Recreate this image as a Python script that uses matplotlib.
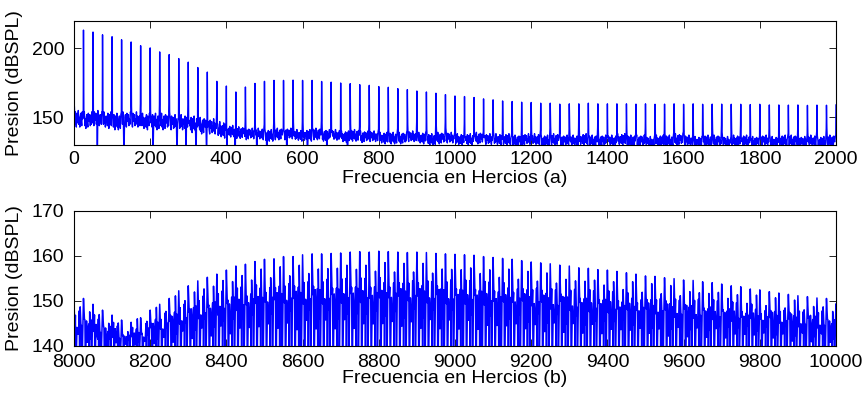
import numpy as np
import matplotlib.pyplot as plt

plt.rcParams['font.family'] = ['Liberation Sans', 'DejaVu Sans']

# Step 1: values
f0 = 25  # spacing of the harmonics (Hz)

# (a) peak height of each harmonic, 25 .. 2000 Hz
peaks_a = [213.2, 211.8, 209.8, 208.4, 206.2, 204.6, 201.9, 200.3, 197.4, 195.5,
           192.6, 190.0, 186.1, 182.8, 176.1, 172.7, 168.4, 172.0, 174.6, 176.1,
           176.8, 176.8, 177.0, 176.8, 176.8, 176.0, 175.5, 174.9, 174.4, 173.7,
           173.2, 172.3, 171.8, 170.8, 170.1, 169.1, 168.4, 167.5, 166.5, 165.5,
           165.1, 164.4, 163.4, 162.7, 161.9, 161.5, 161.0, 160.8, 160.3, 160.3,
           159.6, 159.8, 159.8, 160.3, 159.8, 159.8, 159.8, 159.8, 159.6, 159.8,
           159.5, 159.6, 159.8, 159.5, 159.8, 159.5, 159.6, 159.6, 159.5, 159.5,
           159.3, 159.5, 159.0, 159.0, 158.9, 159.0, 158.7, 158.9, 158.8, 159.0]

# (a) noise floor level in the gap before each harmonic
floor_a = [149, 148, 149, 148, 147, 148, 148, 147, 147, 147, 146, 146, 145, 144,
           143, 141, 140, 139,
           138, 138, 137, 138, 138, 137, 137, 138, 137, 137, 136, 137, 136, 136,
           135, 135, 135, 136, 135, 134, 135, 135, 134, 134, 135, 134,
           134, 134, 133, 134, 134, 133, 134, 133, 133, 134, 133, 133,
           133, 134, 133, 133, 132, 133, 133, 134, 133, 132, 133, 133,
           132, 133, 133, 132, 133, 132, 133, 133, 132, 133, 132, 133]

# (a) places where the floor drops out of the axes
dips_a = [61, 131, 207, 270, 294, 320, 348, 401, 422, 479, 506, 558, 612, 664, 717]

# (b) peak height of each harmonic, 8000 .. 10000 Hz
peaks_b = [149.8, 150.5, 149.2, 147.9, 146.8, 145.7, 145.2, 146.2, 147.9, 149.2,
           150.5, 152.2, 153.3, 154.4, 155.2, 155.9, 156.8, 157.7, 158.1, 158.7,
           159.2, 159.3, 159.8, 159.8, 160.2, 160.4, 160.4, 160.5, 160.6, 160.8,
           160.9, 160.8, 161.0, 160.9, 160.8, 160.7, 160.8, 160.7, 160.5, 160.4,
           160.3, 160.2, 160.1, 159.8, 159.6, 159.4, 159.2, 158.9, 158.6, 158.4,
           158.2, 157.9, 157.7, 157.3, 157.2, 156.9, 156.8, 156.5, 156.2, 155.9,
           155.5, 155.4, 155.1, 154.9, 154.6, 154.5, 154.2, 154.0, 153.7, 153.3,
           153.1, 152.6, 152.4, 152.0, 151.7, 151.4, 151.1, 150.9, 150.6, 150.5,
           149.3]

# shape of one period, as seen in the zoomed picture
wiggle_a = [3, -4, 5, -2, -6, 4, 0, -3, 6, -4, 1, -6, 2, 4, -2, -5, 5, 0,
            -1, 4, -4, 1, -3, 6, -2, 3, -5, 2, -1]

per_off_b = [-12.5, -11.0, -10.0, -8.7, -6.5, -5.0, -4.0, -1.5, 0, 2.5, 3.8, 5.0, 8.0, 10.5]
per_frac_b = [0.45, 0.7, -0.3, 0.85, 0.4, 0.6, -0.3, 0.55, 1.0, 0.55, 0.7, -0.3, 0.6, 0.3]
wiggle_b = [1, -1, 0.5, 0, -1, 1, -0.5, 0, 1, -1, 0.5, 0, -1]
base_b = 138

# Step 2: build the traces
gap_pos = np.arange(1.0, 24.5, 1.3)  # sample positions inside one gap

fa = [0.0, 1.0]
pa = [170.0, 152.0]
for k, (peak, fl) in enumerate(zip(peaks_a, floor_a)):
    start = k * f0
    amp = 1.0 if start < 400 else 0.7
    for j, off in enumerate(gap_pos):
        v = fl + amp * wiggle_a[(k * 7 + j) % len(wiggle_a)]
        if j == 0:
            v += 6
        if j == len(gap_pos) - 1:
            v += 7
        fa.append(start + off)
        pa.append(v)
    fa.append(start + f0)
    pa.append(peak)
for d in dips_a:
    i = int(np.searchsorted(fa, d))
    pa[i] = 120.0

fb = []
pb = []
for k, peak in enumerate(peaks_b):
    centre = 8000 + k * f0
    for j, (off, fr) in enumerate(zip(per_off_b, per_frac_b)):
        v = base_b + fr * (peak - base_b)
        if off != 0:
            v += wiggle_b[(k * 4 + j) % len(wiggle_b)]
        fb.append(centre + off)
        pb.append(v)

# Step 3: charts
fig = plt.figure(figsize=(8.64, 3.93), dpi=100)
ax1 = fig.add_axes([0.0856, 0.631, 0.882, 0.3163])
ax2 = fig.add_axes([0.0856, 0.1204, 0.882, 0.3435])

ax1.plot(fa, pa, color="#0000ff", linewidth=1.0)
ax1.set_xlim(0, 2000)
ax1.set_ylim(130, 220)
ax1.set_xticks(range(0, 2001, 200))
ax1.set_yticks([150, 200])
ax1.set_xlabel("Frecuencia en Hercios (a)", fontsize=14, labelpad=2)
ax1.set_ylabel("Presion (dBSPL)", fontsize=14, labelpad=6)

ax2.plot(fb, pb, color="#0000ff", linewidth=1.1)
ax2.set_xlim(8000, 10000)
ax2.set_ylim(140, 170)
ax2.set_xticks(range(8000, 10001, 200))
ax2.set_yticks([140, 150, 160, 170])
ax2.set_xlabel("Frecuencia en Hercios (b)", fontsize=14, labelpad=-1)
ax2.set_ylabel("Presion (dBSPL)", fontsize=14, labelpad=6)

for ax in (ax1, ax2):
    ax.tick_params(direction="in", top=True, right=True, length=5, width=0.6,
                   labelsize=14)
    ax.tick_params(axis="x", pad=4)
    ax.tick_params(axis="y", pad=7)
    for s in ax.spines.values():
        s.set_linewidth(0.8)
ax2.tick_params(axis="x", pad=6)

plt.savefig("out.png", dpi=100)
